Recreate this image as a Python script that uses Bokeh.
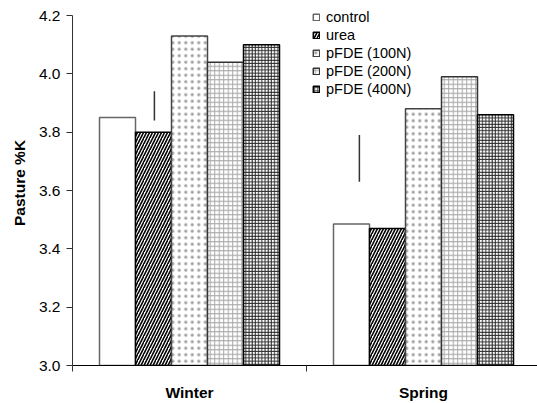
from bokeh.plotting import figure
from bokeh.models import (Range1d, FixedTicker, Legend, LegendItem, ColumnDataSource)
from bokeh.embed import file_html
from bokeh.resources import INLINE

# ---- data ----
seasons = ["Winter", "Spring"]
treatments = ["control", "urea", "pFDE (100N)", "pFDE (200N)", "pFDE (400N)"]
control = [3.85, 3.485]
urea = [3.80, 3.47]
pfde_100 = [4.13, 3.88]
pfde_200 = [4.04, 3.99]
pfde_400 = [4.10, 3.86]
lsd_low = [3.84, 3.63]
lsd_high = [3.94, 3.79]
y_ticks = [3.0, 3.2, 3.4, 3.6, 3.8, 4.0, 4.2]

series = [control, urea, pfde_100, pfde_200, pfde_400]

FONT = "Liberation Sans"

p = figure(width=537, height=403, output_backend="svg", toolbar_location=None,
           x_range=Range1d(0, 465 / 234), y_range=Range1d(3.0, 4.2 + 15 / (350 / 1.2)),
           min_border_left=72, min_border_right=0, min_border_top=0,
           min_border_bottom=38)
p.outline_line_color = None
p.xgrid.visible = False
p.ygrid.visible = False
p.background_fill_color = "white"

n = len(treatments)
bw = 1.0 / (n + 1.5)
start = 0.75 * bw

styles = [
    dict(fill_color="white", line_color="#666666"),
    dict(fill_color="white", line_color="#000000", hatch_pattern="/",
         hatch_color="black", hatch_scale=6, hatch_weight=1.6),
    dict(fill_color="white", line_color="#444444", hatch_pattern=".",
         hatch_color="#a0a0a0", hatch_scale=6.5, hatch_weight=0.7),
    dict(fill_color="white", line_color="#333333", hatch_pattern="+",
         hatch_color="#a8a8a8", hatch_scale=4.5, hatch_weight=1),
    dict(fill_color="white", line_color="#000000", hatch_pattern="+",
         hatch_color="#2a2a2a", hatch_scale=3.2, hatch_weight=1),
]

items = []
for i, (name, vals, st) in enumerate(zip(treatments, series, styles)):
    xs = [k + start + (i + 0.5) * bw for k in range(len(seasons))]
    src = ColumnDataSource(dict(x=xs, top=vals))
    r = p.vbar(x="x", top="top", bottom=3.0, width=bw, source=src,
               line_width=1.5, **st)
    items.append(LegendItem(label=name, renderers=[r]))

# LSD markers
lsd_offsets = [0.35, 0.226]
lsd_x = [k + o for k, o in enumerate(lsd_offsets)]
p.segment(x0=lsd_x, y0=lsd_low, x1=lsd_x, y1=lsd_high,
          line_color="#333333", line_width=1.5)

legend = Legend(items=items, location=(240, 267), padding=0, margin=0,
                border_line_color=None, background_fill_alpha=0,
                glyph_width=8, glyph_height=8, label_standoff=6,
                label_height=18, spacing=0,
                label_text_font=FONT, label_text_font_size="14.5px",
                label_text_color="black")
p.add_layout(legend, "center")

# y axis
ya = p.yaxis[0]
ya.bounds = (3.0, 4.2)
ya.ticker = FixedTicker(ticks=y_ticks, minor_ticks=[])
ya.major_label_overrides = {t: f"{t:.1f}" for t in y_ticks}
ya.major_tick_out = 6
ya.major_tick_in = 0
ya.minor_tick_line_color = None
ya.axis_line_color = "#333333"
ya.major_tick_line_color = "#333333"
ya.major_label_text_font = FONT
ya.major_label_text_font_size = "15.5px"
ya.major_label_text_color = "black"
ya.major_label_standoff = 6
ya.axis_label = "Pasture %K"
ya.axis_label_text_font = FONT
ya.axis_label_text_font_style = "bold"
ya.axis_label_text_font_size = "15.5px"
ya.axis_label_text_color = "black"
ya.axis_label_standoff = 8

# x axis: ticks at category boundaries, labels at category centres
xa = p.xaxis[0]
xa.ticker = FixedTicker(ticks=[k + 0.5 for k in range(len(seasons))],
                        minor_ticks=list(range(len(seasons) + 1)))
xa.major_label_overrides = {k + 0.5: s for k, s in enumerate(seasons)}
xa.major_tick_line_color = None
xa.major_tick_out = 0
xa.major_tick_in = 0
xa.minor_tick_out = 6
xa.minor_tick_in = 0
xa.minor_tick_line_color = "#333333"
xa.axis_line_color = "black"
xa.axis_line_width = 1.2
xa.major_label_text_font = FONT
xa.major_label_text_font_style = "bold"
xa.major_label_text_font_size = "15.5px"
xa.major_label_text_color = "black"
xa.major_label_standoff = 12

open("out.html", "w").write(file_html(p, INLINE))
